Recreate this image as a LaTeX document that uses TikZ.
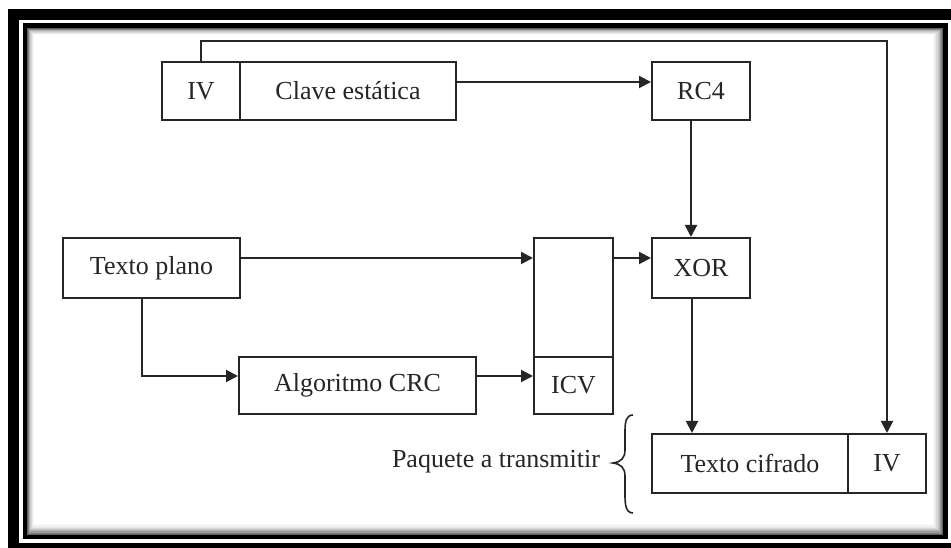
\documentclass[tikz,border=0pt]{standalone}
\usepackage{fontspec}
\setmainfont{Liberation Serif}
\usetikzlibrary{arrows.meta,calc}
\begin{document}
\begin{tikzpicture}[x=0.75pt,y=-0.75pt,
  box/.style={draw=black!85,line width=1.5pt,rectangle,inner sep=0pt,
    minimum height=43.5pt,font=\fontsize{19.5}{22}\selectfont,text=black!85},
  lbl/.style={inner sep=0pt,font=\fontsize{19.5}{22}\selectfont,text=black!85},
  arr/.style={draw=black!85,line width=1.5pt,-{Triangle[length=9pt,width=9pt]}},
  wire/.style={draw=black!85,line width=1.5pt},
]
\useasboundingbox (0,0) rectangle (951,548);

% double frame with inner shadow
\begin{scope}
  \clip (0,0) rectangle (951,548);
  \fill[white] (0,0) rectangle (951,548);
  \fill[black] (8,9) rectangle (980,580);
  \fill[white] (19,20) rectangle (951,543);
  \fill[black] (23,23) rectangle (948,539);
  \foreach \i/\c in {0/62,1/50,2/39,3/30,4/22,5/15,6/9,7/5,8/2,9/0}
    \fill[black!\c] (27+0.8*\i,28+0.8*\i) rectangle (943-1.1*\i,535-1.2*\i);
\end{scope}

% blocks
\node[box,minimum width=58.5pt] (ivA) at (201,91) {IV};
\node[box,minimum width=162pt] (clave) at (348,91) {Clave estática};
\node[box,minimum width=73.5pt] (rc4) at (701,91) {RC4};
\node[box,minimum width=132.75pt,minimum height=45pt] (plano) at (151.5,268) {Texto plano};
\node[box,minimum width=59.25pt,minimum height=89.25pt] (icvtop) at (573.5,297.5) {};
\node[box,minimum width=59.25pt,minimum height=42.75pt] (icv) at (573.5,385.5) {ICV};
\node[box,minimum width=73.5pt,minimum height=45pt] (xor) at (701,268) {XOR};
\node[box,minimum width=177.75pt,minimum height=42.75pt] (crc) at (357.5,385.5) {Algoritmo CRC};
\node[box,minimum width=147pt,minimum height=44.25pt] (cifrado) at (750,463.5) {Texto cifrado};
\node[box,minimum width=58.5pt,minimum height=44.25pt] (ivB) at (887,463.5) {IV};
\node[lbl] (paq) at (496,462) {Paquete a transmitir};

% connectors
\draw[arr] (ivA.north) -- ++(0,-20) -| (ivB.north);
\draw[arr] ($(clave.east)+(0,-9)$) -- ($(rc4.west)+(0,-9)$);
\draw[arr] ($(rc4.south)+(-10,0)$) -- ($(xor.north)+(-10,0)$);
\draw[arr] ($(plano.east)+(0,-10)$) -- ($(icvtop.west)+(0,-39.5)$);
\draw[arr] ($(icvtop.east)+(0,-39.5)$) -- ($(xor.west)+(0,-10)$);
\draw[arr] ($(plano.south)+(-9.5,0)$) |- ($(crc.west)+(0,-9.5)$);
\draw[arr] ($(crc.east)+(0,-9.5)$) -- ($(icv.west)+(0,-9.5)$);
\draw[arr] ($(xor.south)+(-9,0)$) -- ($(cifrado.north)+(-58,0)$);

% curly brace grouping the transmitted packet
\draw[wire,line width=1.2pt]
  (633,415) .. controls (626,415) and (625,422) .. (625,432)
  -- (625,450) .. controls (625,458) and (621,462) .. (613,463)
  .. controls (621,464) and (625,468) .. (625,476)
  -- (625,495) .. controls (625,505) and (626,513) .. (633,513);
\end{tikzpicture}
\end{document}
